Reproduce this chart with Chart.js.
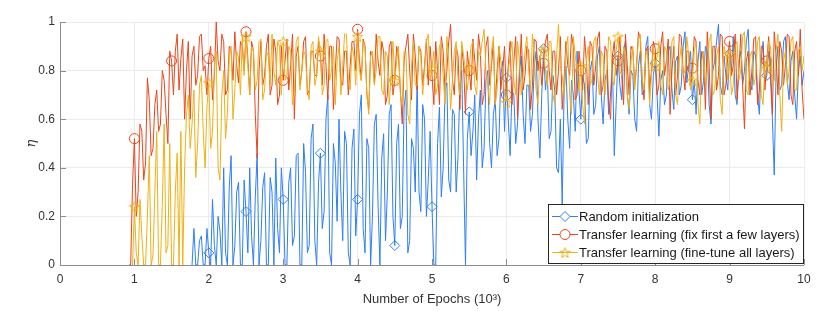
<!DOCTYPE html>
<html lang="en">
<head>
    <meta charset="UTF-8">
    <title>Epochs vs eta</title>
    <script src="https://cdn.jsdelivr.net/npm/chart.js"></script>
    <style>
        body { margin: 0; background: #fff; }
        #wrap { width: 830px; height: 311px; }
    </style>
</head>
<body>
<div id="wrap"><canvas id="etaChart" width="830" height="311"></canvas></div>
<script>
// x axis in units of 10^3 epochs, one sample every 25 epochs
const xStep = 0.025;
const xTicks = [0, 1, 2, 3, 4, 5, 6, 7, 8, 9, 10];
const yTicks = [0, 0.2, 0.4, 0.6, 0.8, 1];
const markerX = [1, 1.5, 2, 2.5, 3, 3.5, 4, 4.5, 5, 5.5, 6, 6.5, 7, 7.5, 8, 8.5, 9, 9.5];
// star at 1.5 is not visible in the figure
const tuneMarkerX = [1, 2, 2.5, 3, 3.5, 4, 4.5, 5, 5.5, 6, 6.5, 7, 7.5, 8, 8.5, 9, 9.5];

const seriesNames = [
    'Random initialization',
    'Transfer learning (fix first a few layers)',
    'Transfer learning (fine-tune all layers)'
];

// random initialization, starts at 1.800
const randomStart = 1.8;
const randomEta = [
    0.15, 0.00, 0.00, 0.10, 0.12, 0.00, 0.00, 0.15, 0.05, 0.00, 0.27, 0.08, 0.00, 0.20, 0.14, 0.00, 0.40, 0.05, 0.00, 0.32,
    0.45, 0.00, 0.08, 0.30, 0.34, 0.00, 0.00, 0.35, 0.22, 0.05, 0.40, 0.12, 0.00, 0.28, 0.46, 0.00, 0.10, 0.32, 0.38, 0.00,
    0.00, 0.36, 0.30, 0.00, 0.44, 0.15, 0.05, 0.40, 0.27, 0.00, 0.00, 0.34, 0.40, 0.08, 0.12, 0.45, 0.46, 0.00, 0.00, 0.50,
    0.38, 0.05, 0.08, 0.52, 0.58, 0.10, 0.00, 0.34, 0.46, 0.15, 0.22, 0.60, 0.70, 0.05, 0.00, 0.50, 0.42, 0.18, 0.60, 0.30,
    0.10, 0.55, 0.50, 0.05, 0.00, 0.48, 0.56, 0.12, 0.27, 0.62, 0.70, 0.15, 0.05, 0.52, 0.48, 0.00, 0.20, 0.58, 0.62, 0.25,
    0.00, 0.44, 0.54, 0.10, 0.30, 0.62, 0.66, 0.20, 0.08, 0.50, 0.58, 0.15, 0.20, 0.65, 0.72, 0.05, 0.10, 0.52, 0.48, 0.30,
    0.78, 0.30, 0.22, 0.66, 0.60, 0.20, 0.35, 0.55, 0.24, 0.00, 0.00, 0.50, 0.65, 0.28, 0.40, 0.72, 0.75, 0.35, 0.30, 0.64,
    0.62, 0.30, 0.45, 0.74, 0.80, 0.40, 0.00, 0.52, 0.63, 0.45, 0.55, 0.70, 0.35, 0.60, 0.72, 0.40, 0.48, 0.76, 0.80, 0.50,
    0.40, 0.62, 0.68, 0.45, 0.52, 0.78, 0.84, 0.55, 0.77, 0.60, 0.45, 0.72, 0.70, 0.50, 0.58, 0.80, 0.86, 0.62, 0.50, 0.74,
    0.74, 0.55, 0.62, 0.82, 0.88, 0.60, 0.44, 0.70, 0.89, 0.72, 0.80, 0.52, 0.55, 0.78, 0.72, 0.40, 0.38, 0.60, 0.25, 0.70,
    0.82, 0.60, 0.48, 0.76, 0.70, 0.55, 0.88, 0.72, 0.60, 0.78, 0.74, 0.50, 0.52, 0.80, 0.84, 0.62, 0.66, 0.86, 0.90, 0.70,
    0.58, 0.76, 0.80, 0.62, 0.70, 0.84, 0.45, 0.66, 0.86, 0.74, 0.68, 0.88, 0.92, 0.70, 0.62, 0.80, 0.78, 0.60, 0.55, 0.82,
    0.88, 0.70, 0.72, 0.90, 0.94, 0.66, 0.60, 0.78, 0.83, 0.70, 0.53, 0.76, 0.80, 0.66, 0.70, 0.88, 0.90, 0.72, 0.64, 0.84,
    0.86, 0.70, 0.74, 0.90, 0.96, 0.75, 0.82, 0.88, 0.68, 0.76, 0.62, 0.84, 0.92, 0.70, 0.76, 0.90, 0.88, 0.66, 0.58, 0.80,
    0.84, 0.92, 0.99, 0.74, 0.70, 0.86, 0.78, 0.72, 0.87, 0.80, 0.94, 0.70, 0.66, 0.84, 0.88, 0.74, 0.80, 0.92, 0.97, 0.76,
    0.72, 0.88, 0.86, 0.70, 0.62, 0.84, 0.92, 0.75, 0.78, 0.88, 0.84, 0.60, 0.37, 0.80, 0.90, 0.72, 0.74, 0.92, 0.94, 0.76,
    0.68, 0.84, 0.88, 0.70, 0.60, 0.80, 0.86, 0.74, 0.80
];

// fix first few layers, starts at 0.950
const fixStart = 0.95;
const fixEta = [
    0.00, 0.33, 0.52, 0.20, 0.30, 0.58, 0.55, 0.35, 0.42, 0.77, 0.68, 0.45, 0.48, 0.66, 0.72, 0.55, 0.58, 0.80, 0.76, 0.62,
    0.50, 0.88, 0.84, 0.70, 0.88, 0.95, 0.72, 0.85, 0.93, 0.60, 0.80, 0.92, 0.60, 0.86, 0.90, 0.74, 0.78, 0.94, 0.95, 0.80,
    0.82, 0.70, 0.85, 0.90, 0.68, 0.78, 1.00, 0.84, 0.80, 0.95, 0.92, 0.70, 0.72, 0.90, 0.88, 0.76, 0.96, 0.82, 0.75, 0.92,
    0.90, 0.80, 0.96, 0.85, 0.70, 0.92, 0.88, 0.62, 0.44, 0.80, 0.92, 0.74, 0.78, 0.90, 0.95, 0.70, 0.74, 0.93, 0.88, 0.66,
    0.70, 0.90, 0.76, 0.84, 0.93, 0.72, 0.82, 0.95, 0.60, 0.86, 0.90, 0.74, 0.80, 0.92, 0.94, 0.70, 0.72, 0.88, 0.88, 0.78,
    0.78, 0.92, 0.86, 0.74, 0.95, 0.82, 0.68, 0.90, 0.90, 0.64, 0.80, 0.94, 0.93, 0.76, 0.74, 0.88, 0.88, 0.70, 0.82, 0.92,
    0.92, 0.80, 0.97, 0.84, 0.76, 0.93, 0.90, 0.70, 0.64, 0.88, 0.86, 0.75, 0.95, 0.84, 0.78, 0.92, 0.88, 0.66, 0.70, 0.90,
    0.92, 0.70, 0.76, 0.90, 0.86, 0.72, 0.58, 0.84, 0.90, 0.95, 0.80, 0.68, 0.95, 0.86, 0.72, 0.90, 0.88, 0.74, 0.82, 0.93,
    0.74, 0.90, 0.78, 0.66, 0.92, 0.80, 0.66, 0.94, 0.88, 0.72, 0.80, 0.92, 0.99, 0.76, 0.70, 0.90, 0.86, 0.64, 0.90, 0.82,
    0.62, 0.88, 0.80, 0.72, 0.93, 0.84, 0.76, 0.95, 0.88, 0.66, 0.70, 0.90, 0.94, 0.74, 0.82, 0.92, 0.66, 0.80, 0.90, 0.72,
    0.80, 0.90, 0.70, 0.82, 0.92, 0.66, 0.84, 0.94, 0.60, 0.78, 0.95, 0.72, 0.78, 0.90, 0.88, 0.64, 0.74, 0.93, 0.92, 0.80,
    0.86, 0.74, 0.83, 0.92, 0.95, 0.80, 0.72, 0.88, 0.88, 0.70, 0.80, 0.94, 0.64, 0.76, 0.92, 0.82, 0.78, 0.95, 0.90, 0.68,
    0.70, 0.88, 0.80, 0.72, 0.94, 0.84, 0.66, 0.92, 0.90, 0.74, 0.82, 0.93, 0.96, 0.70, 0.74, 0.90, 0.88, 0.66, 0.60, 0.86,
    0.92, 0.78, 0.84, 0.94, 0.78, 0.66, 0.95, 0.82, 0.70, 0.90, 0.88, 0.74, 0.82, 0.96, 0.93, 0.76, 0.68, 0.88, 0.90, 0.72,
    0.80, 0.92, 0.89, 0.70, 0.74, 0.90, 0.96, 0.78, 0.84, 0.93, 0.62, 0.80, 0.90, 0.70, 0.78, 0.95, 0.94, 0.80, 0.72, 0.88,
    0.88, 0.74, 0.81, 0.94, 0.92, 0.76, 0.70, 0.88, 0.86, 0.64, 0.96, 0.82, 0.60, 0.90, 0.90, 0.72, 0.78, 0.95, 0.94, 0.70,
    0.74, 0.86, 0.92, 0.78, 0.82, 0.95, 0.68, 0.80, 0.95, 0.74, 0.56, 0.84, 0.88, 0.70, 0.80, 0.93, 0.94, 0.66, 0.72, 0.90,
    0.90, 0.72, 0.84, 0.94, 0.76, 0.62, 0.96, 0.86, 0.70, 0.92, 0.88, 0.74, 0.82, 0.95, 0.94, 0.70, 0.66, 0.88, 0.92, 0.78,
    0.97, 0.72, 0.60
];

// fine-tune all layers, starts at 1.000
const tuneStart = 1.0;
const tuneEta = [
    0.24, 0.05, 0.00, 0.27, 0.12, 0.00, 0.00, 0.20, 0.45, 0.00, 0.04, 0.30, 0.55, 0.00, 0.00, 0.25, 0.58, 0.05, 0.08, 0.50,
    0.00, 0.00, 0.30, 0.46, 0.00, 0.55, 0.00, 0.40, 0.62, 0.70, 0.48, 0.58, 0.72, 0.36, 0.50, 0.74, 0.78, 0.55, 0.40, 0.65,
    0.75, 0.48, 0.55, 0.82, 0.88, 0.40, 0.35, 0.70, 0.80, 0.52, 0.62, 0.86, 0.90, 0.60, 0.72, 0.88, 0.85, 0.70, 0.94, 0.78,
    0.94, 0.82, 0.70, 0.90, 0.88, 0.72, 0.76, 0.92, 0.93, 0.68, 0.72, 0.88, 0.86, 0.74, 0.95, 0.80, 0.74, 0.92, 0.90, 0.70,
    0.92, 0.76, 0.78, 0.90, 0.88, 0.66, 0.70, 0.92, 0.94, 0.72, 0.80, 0.88, 0.86, 0.72, 0.68, 0.90, 0.92, 0.74, 0.78, 0.94,
    0.88, 0.70, 0.74, 0.92, 0.93, 0.76, 0.80, 0.90, 0.66, 0.84, 0.90, 0.70, 0.82, 0.95, 0.95, 0.76, 0.72, 0.90, 0.86, 0.74,
    0.94, 0.80, 0.76, 0.92, 0.90, 0.70, 0.62, 0.86, 0.88, 0.74, 0.80, 0.94, 0.94, 0.72, 0.70, 0.88, 0.86, 0.66, 0.78, 0.92,
    0.76, 0.84, 0.90, 0.70, 0.66, 0.88, 0.88, 0.62, 0.58, 0.82, 0.92, 0.74, 0.74, 0.90, 0.86, 0.70, 0.80, 0.92, 0.95, 0.76,
    0.81, 0.88, 0.70, 0.74, 0.90, 0.92, 0.78, 0.66, 0.94, 0.84, 0.64, 0.76, 0.88, 0.92, 0.76, 0.70, 0.92, 0.86, 0.80, 0.72,
    0.81, 0.90, 0.92, 0.74, 0.70, 0.88, 0.86, 0.92, 0.97, 0.80, 0.74, 0.66, 0.88, 0.94, 0.66, 0.72, 0.90, 0.84, 0.80, 0.70,
    0.67, 0.80, 0.86, 0.92, 0.76, 0.70, 0.92, 0.84, 0.70, 0.78, 0.88, 0.94, 0.80, 0.72, 0.95, 0.86, 0.72, 0.66, 0.86, 0.90,
    0.88, 0.80, 0.74, 0.92, 0.92, 0.70, 0.66, 0.86, 0.99, 0.82, 0.78, 0.70, 0.88, 0.94, 0.70, 0.62, 0.94, 0.86, 0.80, 0.72,
    0.82, 0.66, 0.58, 0.84, 0.90, 0.74, 0.76, 0.92, 0.94, 0.78, 0.70, 0.88, 0.86, 0.70, 0.80, 0.94, 0.92, 0.76, 0.74, 0.88,
    0.94, 0.80, 0.78, 0.90, 0.88, 0.70, 0.64, 0.84, 0.90, 0.72, 0.82, 0.93, 0.95, 0.76, 0.72, 0.88, 0.86, 0.66, 0.78, 0.90,
    0.82, 0.86, 0.92, 0.74, 0.70, 0.90, 0.88, 0.72, 0.76, 0.92, 0.94, 0.70, 0.66, 0.84, 0.90, 0.78, 0.80, 0.94, 0.86, 0.72,
    0.76, 0.88, 0.92, 0.66, 0.58, 0.84, 0.88, 0.74, 0.80, 0.92, 0.95, 0.70, 0.72, 0.86, 0.90, 0.68, 0.62, 0.90, 0.86, 0.76,
    0.87, 0.70, 0.74, 0.90, 0.92, 0.76, 0.80, 0.94, 0.96, 0.72, 0.70, 0.86, 0.88, 0.74, 0.78, 0.92, 0.94, 0.70, 0.66, 0.84,
    0.81, 0.92, 0.90, 0.74, 0.76, 0.88, 0.95, 0.70, 0.55, 0.84, 0.88, 0.74, 0.80, 0.92, 0.94, 0.72, 0.72, 0.88, 0.90, 0.80,
    0.86
];

const colors = ['#2f7ff5', '#e8461b', '#efb114'];

// outlined five-point star, MATLAB style
function starCanvas(color, r) {
    const c = document.createElement('canvas');
    const s = Math.ceil(r * 2 + 2);
    c.width = s; c.height = s;
    const g = c.getContext('2d');
    g.strokeStyle = color;
    g.lineWidth = 1;
    g.beginPath();
    for (let k = 0; k < 10; k++) {
        const rad = k % 2 === 0 ? r : r * 0.42;
        const a = -Math.PI / 2 + k * Math.PI / 5;
        const px = s / 2 + rad * Math.cos(a);
        const py = s / 2 + 0.6 + rad * Math.sin(a);
        if (k === 0) g.moveTo(px, py); else g.lineTo(px, py);
    }
    g.closePath();
    g.stroke();
    return c;
}

const markers = ['rectRot', 'circle', starCanvas(colors[2], 5.5)];

function toPoints(start, values) {
    // one zero sample just before training starts
    const pts = [{ x: Math.round((start - xStep) * 1000) / 1000, y: 0 }];
    values.forEach((v, i) => {
        pts.push({ x: Math.round((start + i * xStep) * 1000) / 1000, y: v });
    });
    return pts;
}

function makeSet(idx, start, values, marks, order) {
    return {
        label: seriesNames[idx],
        data: toPoints(start, values),
        borderColor: colors[idx],
        backgroundColor: 'rgba(0,0,0,0)',
        borderWidth: 1,
        pointStyle: markers[idx],
        pointRadius: ctx => (ctx.raw && ctx.dataIndex > 0 && marks.includes(ctx.raw.x)) ? 5 : 0,
        pointBorderColor: colors[idx],
        pointBorderWidth: 1,
        pointBackgroundColor: 'rgba(0,0,0,0)',
        tension: 0,
        order: order
    };
}

// MATLAB-like inward ticks and boxed legend inside the axes
const matlabBits = {
    id: 'matlabBits',
    afterDatasetsDraw(chart) {
        const { ctx, chartArea: a, scales } = chart;
        ctx.save();
        ctx.strokeStyle = '#8c8c8c';
        ctx.lineWidth = 1;
        ctx.beginPath();
        ctx.moveTo(a.left + 0.5, a.top);
        ctx.lineTo(a.left + 0.5, a.bottom + 0.5);
        ctx.lineTo(a.right, a.bottom + 0.5);
        xTicks.forEach(t => {
            const x = Math.round(scales.x.getPixelForValue(t)) + 0.5;
            ctx.moveTo(x, a.bottom);
            ctx.lineTo(x, a.bottom - 6);
        });
        yTicks.forEach(t => {
            const y = Math.round(scales.y.getPixelForValue(t)) + 0.5;
            ctx.moveTo(a.left, y);
            ctx.lineTo(a.left + 6, y);
        });
        ctx.stroke();

        // legend
        const bx = 548.5, by = 204.5, bw = 255, bh = 59;
        ctx.fillStyle = '#ffffff';
        ctx.fillRect(bx, by, bw, bh);
        ctx.strokeStyle = '#262626';
        ctx.strokeRect(bx, by, bw, bh);
        ctx.font = '13px "Liberation Sans", Arial, sans-serif';
        ctx.textBaseline = 'middle';
        seriesNames.forEach((name, i) => {
            const y = 216 + i * 18;
            ctx.strokeStyle = colors[i];
            ctx.lineWidth = 1;
            ctx.beginPath();
            ctx.moveTo(552, y + 0.5);
            ctx.lineTo(578, y + 0.5);
            ctx.stroke();
            ctx.fillStyle = '#ffffff';
            Chart.helpers.drawPoint(ctx, {
                pointStyle: markers[i], radius: 5, rotation: 0, borderWidth: 1
            }, 565, y + 0.5);
            ctx.fillStyle = '#1a1a1a';
            ctx.fillText(name, 579, y + 1);
        });
        ctx.restore();
    }
};

Chart.register(matlabBits);

new Chart(document.getElementById('etaChart'), {
    type: 'line',
    data: {
        datasets: [
            makeSet(0, randomStart, randomEta, markerX, 2),
            makeSet(1, fixStart, fixEta, markerX, 1),
            makeSet(2, tuneStart, tuneEta, tuneMarkerX, 0)
        ]
    },
    options: {
        responsive: false,
        animation: false,
        layout: { padding: { top: 22, right: 26, left: 0, bottom: 0 } },
        plugins: {
            legend: { display: false },
            tooltip: { enabled: false }
        },
        scales: {
            x: {
                type: 'linear',
                min: 0,
                max: 10,
                afterBuildTicks: s => { s.ticks = xTicks.map(v => ({ value: v })); },
                afterFit: s => { s.height = 46; },
                grid: { color: '#ebebeb', drawTicks: false },
                border: { display: false },
                ticks: {
                    color: '#333333',
                    padding: 7,
                    maxRotation: 0,
                    font: { family: '"Liberation Sans", Arial, sans-serif', size: 12 },
                    callback: v => String(v)
                },
                title: {
                    display: true,
                    text: 'Number of Epochs (10³)',
                    color: '#333333',
                    padding: { top: 6 },
                    font: { family: '"Liberation Sans", Arial, sans-serif', size: 13 }
                }
            },
            y: {
                min: 0,
                max: 1,
                afterBuildTicks: s => { s.ticks = yTicks.map(v => ({ value: v })); },
                afterFit: s => { s.width = 60; },
                grid: { color: '#ebebeb', drawTicks: false },
                border: { display: false },
                ticks: {
                    color: '#333333',
                    padding: 5,
                    font: { family: '"Liberation Sans", Arial, sans-serif', size: 12 },
                    callback: v => String(v)
                },
                title: {
                    display: true,
                    text: 'η',
                    color: '#333333',
                    padding: { top: 24, bottom: 0 },
                    font: { family: '"DejaVu Serif", serif', size: 13, style: 'italic' }
                }
            }
        }
    }
});
</script>
</body>
</html>
